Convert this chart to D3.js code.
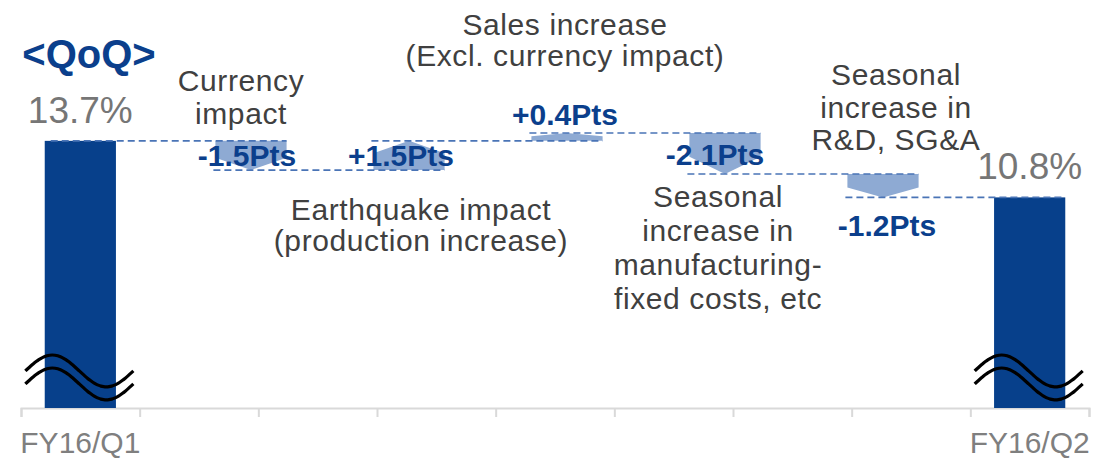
<!DOCTYPE html>
<html>
<head>
<meta charset="utf-8">
<script src="https://cdn.jsdelivr.net/npm/d3@7"></script>
<style>
  html, body { margin: 0; padding: 0; background: #fff; }
  svg { display: block; font-family: Arial, 'Liberation Sans', sans-serif; }
  .note { fill: #404040; font-size: 30px; letter-spacing: 0.6px; }
  .pts { fill: #0b3f8c; font-size: 30px; font-weight: bold; }
  .val { fill: #767676; font-size: 37px; }
  .tick-label { fill: #7f7f7f; font-size: 30px; }
</style>
</head>
<body>
<svg id="chart" width="1099" height="458"></svg>
<script>
// end periods (full bars)
const periods = ['FY16/Q1', 'FY16/Q2'];
const periodValues = [13.7, 10.8];
const periodLabels = ['13.7%', '10.8%'];

// bridge steps between the two quarters
const stepNames = ['Currency', 'Earthquake', 'Sales', 'Manufacturing', 'RnD'];
const stepDeltas = [-1.5, 1.5, 0.4, -2.1, -1.2];
const stepLabels = ['-1.5Pts', '+1.5Pts', '+0.4Pts', '-2.1Pts', '-1.2Pts'];
const stepNotes = [
    ['Currency', 'impact'],
    ['Earthquake impact', '(production increase)'],
    ['Sales increase', '(Excl. currency impact)'],
    ['Seasonal', 'increase in', 'manufacturing-', 'fixed costs, etc'],
    ['Seasonal', 'increase in', 'R&D, SG&A']
];

// 9 slots on the category axis, only the ends are labelled
const axisSlots = ['FY16/Q1', 's1', 's2', 's3', 's4', 's5', 's6', 's7', 'FY16/Q2'];

const title = '<QoQ>';

// layout of the hand placed texts (not data)
const labelPlace = [
    {pos: 'mid', dx: -4},
    {pos: 'mid', dx: -8},
    {pos: 'above', dx: -2},
    {pos: 'mid', dx: -10},
    {pos: 'below', dx: 4}
];
const notePlace = [
    {dx: -10, y: 91, lh: 33},
    {dx: 12, y: 220, lh: 31},
    {dx: -2, y: 35, lh: 31},
    {dx: -7, y: 207, lh: 34},
    {dx: 13, y: 85, lh: 32.5}
];

const colors = {
    bar: '#07408b',
    step: '#8eaad3',
    dash: '#4a74b6',
    axis: '#d9d9d9'
};

const svg = d3.select('#chart');
const axisY = 408;

const xBand = d3.scaleBand().domain(axisSlots).range([21, 1089])
  .paddingInner(0.4).paddingOuter(0.2);
const xSlot = d3.scaleLinear().domain([0, axisSlots.length]).range([21, 1089]);
const xStep = d3.scalePoint().domain(stepNames).range([251, 883]);
const y = d3.scaleLinear().domain([0, 14]).range([axisY, 135]);

const bw = xBand.bandwidth();

// running levels of the bridge
const levels = [periodValues[0]];
stepDeltas.forEach(d => levels.push(Math.round((levels[levels.length - 1] + d) * 10) / 10));

const steps = stepNames.map((name, i) => ({
    name, delta: stepDeltas[i], label: stepLabels[i], note: stepNotes[i],
    from: levels[i], to: levels[i + 1], i
}));

const bars = periods.map((p, i) => ({name: p, value: periodValues[i], label: periodLabels[i]}));

const l_axis = svg.append('g');
const l_main = svg.append('g');
const l_lines = svg.append('g');
const l_text = svg.append('g');

// axis: ticks at the slot boundaries
const axis = d3.axisBottom(xSlot)
  .tickValues(d3.range(0, axisSlots.length + 1))
  .tickFormat('')
  .tickSizeInner(9)
  .tickSizeOuter(9);
const gAxis = l_axis.append('g').attr('transform', `translate(0,${axisY})`).call(axis);
gAxis.selectAll('path, line').attr('stroke', colors.axis).attr('stroke-width', 2);

l_axis.selectAll('.tick-label').data(bars)
  .join('text')
  .attr('class', 'tick-label')
  .attr('x', d => xBand(d.name) + bw / 2)
  .attr('y', 453)
  .attr('text-anchor', 'middle')
  .text(d => d.name);

// end bars
l_main.selectAll('.bar').data(bars)
  .join('rect')
  .attr('class', 'bar')
  .attr('x', d => xBand(d.name))
  .attr('width', bw)
  .attr('y', d => y(d.value))
  .attr('height', d => y(0) - y(d.value))
  .attr('fill', colors.bar);

// break marks on the bars
const waveLine = d3.line().curve(d3.curveBasis);
const breakY = y(1.9);
bars.forEach(b => {
    const cx = xBand(b.name) + bw / 2 - 1;
    [0, 13].forEach(off => {
        const pts = d3.range(0, 1.0001, 1 / 40).map(t => [
            cx - 54 + 108 * t,
            breakY + off - 16 * Math.sin(2 * Math.PI * t)
        ]);
        l_main.append('path')
          .attr('d', waveLine(pts))
          .attr('fill', 'none')
          .attr('stroke', '#000')
          .attr('stroke-width', 3.2);
    });
});

// step arrows
const stepPath = d => {
    const cx = xStep(d.name);
    const x0 = cx - bw / 2, x1 = cx + bw / 2;
    const top = Math.min(y(d.from), y(d.to));
    const bot = Math.max(y(d.from), y(d.to));
    const tip = Math.min((bot - top) * 0.42, 18);
    if (d.delta < 0) {
        return `M${x0},${top}L${x1},${top}L${x1},${bot - tip}L${cx},${bot}L${x0},${bot - tip}Z`;
    }
    return `M${x0},${bot}L${x1},${bot}L${x1},${top + tip}L${cx},${top}L${x0},${top + tip}Z`;
};

l_main.selectAll('.step').data(steps)
  .join('path')
  .attr('class', 'step')
  .attr('d', stepPath)
  .attr('fill', colors.step);

// dashed connectors: level i runs from element i to element i+1
const elemLeft = i => i === 0 ? xBand(periods[0]) + 6
  : i <= steps.length ? xStep(stepNames[i - 1]) - bw / 2 - 2
  : xBand(periods[1]);
const elemRight = i => i <= steps.length ? xStep(stepNames[i - 1]) + bw / 2
  : xBand(periods[1]) + bw;

l_lines.selectAll('.conn').data(levels)
  .join('line')
  .attr('class', 'conn')
  .attr('x1', (d, i) => elemLeft(i))
  .attr('x2', (d, i) => elemRight(i + 1))
  .attr('y1', d => y(d))
  .attr('y2', d => y(d))
  .attr('stroke', colors.dash)
  .attr('stroke-width', 1.6)
  .attr('stroke-dasharray', '7,4');

// value labels of end bars
l_text.selectAll('.val').data(bars)
  .join('text')
  .attr('class', 'val')
  .attr('x', d => xBand(d.name) + bw / 2)
  .attr('y', d => y(d.value) - 18)
  .attr('text-anchor', 'middle')
  .text(d => d.label);

// step labels
l_text.selectAll('.pts').data(steps)
  .join('text')
  .attr('class', 'pts')
  .attr('text-anchor', 'middle')
  .attr('x', d => xStep(d.name) + labelPlace[d.i].dx)
  .attr('y', d => {
      const top = Math.min(y(d.from), y(d.to));
      const bot = Math.max(y(d.from), y(d.to));
      const p = labelPlace[d.i].pos;
      if (p === 'above') return top - 8;
      if (p === 'below') return bot + 39;
      return (top + bot) / 2 + 11;
  })
  .text(d => d.label);

// notes
l_text.selectAll('.note').data(steps)
  .join('text')
  .attr('class', 'note')
  .attr('text-anchor', 'middle')
  .each(function (d) {
      const me = d3.select(this);
      const np = notePlace[d.i];
      d.note.forEach((line, k) => {
          me.append('tspan')
            .attr('x', xStep(d.name) + np.dx)
            .attr('y', np.y + k * np.lh)
            .text(line);
      });
  });

// title
l_text.append('text')
  .attr('x', 89)
  .attr('y', 68)
  .attr('text-anchor', 'middle')
  .attr('fill', '#0b3f8c')
  .style('font-size', '40px')
  .style('font-weight', 'bold')
  .text(title);
</script>
</body>
</html>
